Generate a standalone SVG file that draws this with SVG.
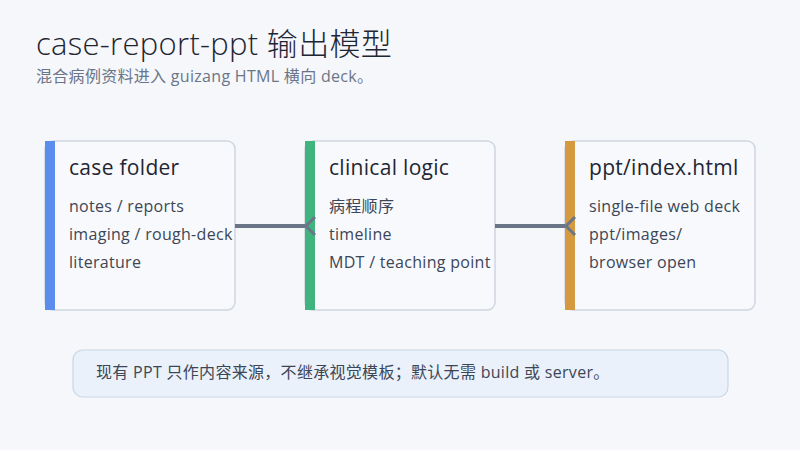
<svg xmlns="http://www.w3.org/2000/svg" width="800" height="450" viewBox="0 0 800 450">
<defs>
<style>
text{font-family:"Open Sans","Noto Sans","Noto Sans CJK SC",sans-serif;letter-spacing:0.3px}
.card{fill:#f8f9fc;stroke:#cfd6e0;stroke-width:1.5}
.t{font-size:21px;fill:#1f2633}
.i{font-size:16px;fill:#3d4656}
.c{stroke:#6b7588;stroke-width:4;fill:none}
.h{stroke:#6b7588;stroke-width:3;fill:none}
</style>
</defs>
<rect width="800" height="450" fill="#f5f7fb"/>
<text x="36" y="55" font-size="31" font-weight="300" fill="#1f2633">case-report-ppt 输出模型</text>
<text x="36" y="82" font-size="16" fill="#6b7588">混合病例资料进入 guizang HTML 横向 deck。</text>
<g id="n1">
<rect class="card" x="45" y="141" width="190" height="169" rx="8"/>
<rect x="45" y="141" width="10" height="169" fill="#5b8def"/>
<text class="t" x="69" y="175">case folder</text>
<text class="i" x="69" y="212">notes / reports</text>
<text class="i" x="69" y="240">imaging / rough-deck</text>
<text class="i" x="69" y="268">literature</text>
</g>
<g id="n2">
<rect class="card" x="305" y="141" width="190" height="169" rx="8"/>
<rect x="305" y="141" width="10" height="169" fill="#3fb47f"/>
<text class="t" x="329" y="175">clinical logic</text>
<text class="i" x="329" y="212">病程顺序</text>
<text class="i" x="329" y="240">timeline</text>
<text class="i" x="329" y="268">MDT / teaching point</text>
</g>
<g id="n3">
<rect class="card" x="565" y="141" width="190" height="169" rx="8"/>
<rect x="565" y="141" width="10" height="169" fill="#d59a3f"/>
<text class="t" x="589" y="175">ppt/index.html</text>
<text class="i" x="589" y="212">single-file web deck</text>
<text class="i" x="589" y="240">ppt/images/</text>
<text class="i" x="589" y="268">browser open</text>
</g>
<g id="connectors">
<line class="c" x1="235" y1="226" x2="305" y2="226"/>
<path class="h" d="M315,217 L306,226 L315,235"/>
<line class="c" x1="495" y1="226" x2="565" y2="226"/>
<path class="h" d="M575,217 L566,226 L575,235"/>
</g>
<g id="note">
<rect x="73" y="350" width="655" height="47" rx="10" fill="#eaf1fa" stroke="#c9d6e6" stroke-width="1.2"/>
<text x="96" y="378" font-size="16" fill="#3d4656">现有 PPT 只作内容来源，不继承视觉模板；默认无需 build 或 server。</text>
</g>
</svg>
